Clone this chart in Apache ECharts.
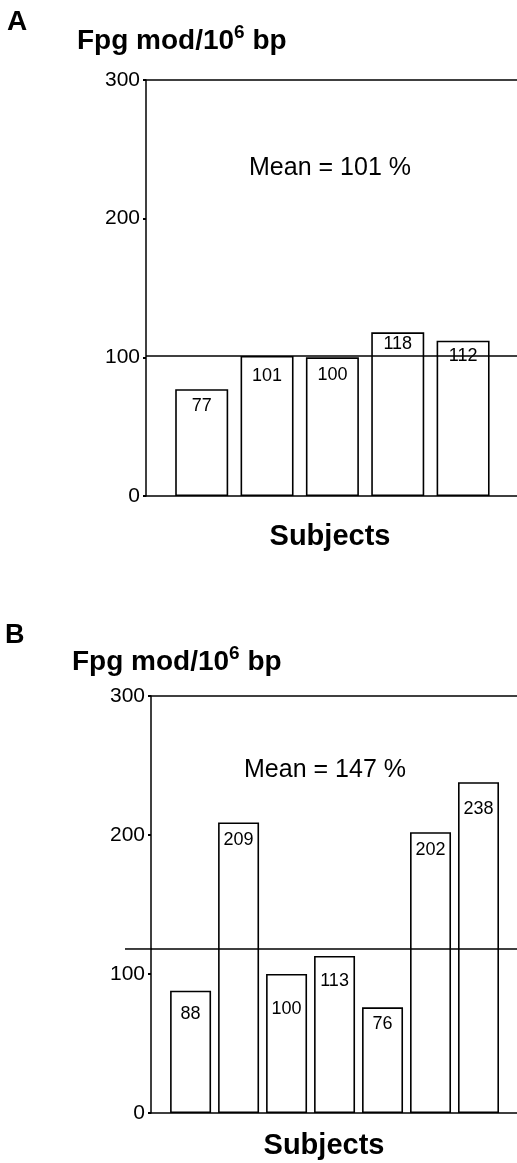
<!DOCTYPE html>
<html>
<head>
<meta charset="utf-8">
<script src="https://cdn.jsdelivr.net/npm/echarts@6/dist/echarts.min.js"></script>
<style>
html,body{margin:0;padding:0;background:#fff;}
#c{width:517px;height:1163px;}
</style>
</head>
<body>
<div id="c"></div>
<script>
// ---- data ----
const subjectsA = ['S1','S2','S3','S4','S5'];
const valuesA = [77, 101, 100, 118, 112];
const subjectsB = ['S1','S2','S3','S4','S5','S6','S7'];
const valuesB = [88, 209, 100, 113, 76, 202, 238];
const yTicks = [0, 100, 200, 300];
const meanA = 101;          // printed mean, panel A (%)
const meanB = 147;          // printed mean, panel B (%)
const meanLineA = 101;      // level of the horizontal reference line, A
const meanLineB = 118;      // level of the horizontal reference line, B (as drawn)
const panelLetters = ['A', 'B'];
const yTitle = 'Fpg mod/10';
const xTitle = 'Subjects';

// ---- style / layout (not data) ----
const FONT = '"Liberation Sans", Arial, Helvetica, sans-serif';
const labelDropA = [18, 21, 19, 13, 16];
const labelDropB = [24, 19, 36, 26, 18, 19, 28];

const gA = {left: 146, right: -2, top: 80, height: 416, step: 65.7, firstCenter: 202, barW: 53, lineLeftPx: 0};
const gB = {left: 151, right: -2, top: 696, height: 417, step: 48.25, firstCenter: 190.8, barW: 41, lineLeftPx: 26};
function xRange(g) {
  const width = 517 - g.left - g.right;
  const min = 1 - (g.firstCenter - g.left) / g.step;
  return {min: min, max: min + width / g.step};
}
const rA = xRange(gA), rB = xRange(gB);

function yAxisCfg(idx) {
  return {
    type: 'value', gridIndex: idx, min: yTicks[0], max: yTicks[yTicks.length - 1],
    interval: yTicks[1] - yTicks[0],
    axisLine: {show: true, onZero: false, lineStyle: {color: '#000', width: 1.5}},
    axisTick: {show: true, length: 3, lineStyle: {color: '#000', width: 2}},
    axisLabel: {color: '#000', fontSize: 21, fontFamily: FONT, margin: 6},
    splitLine: {show: false}
  };
}
function xAxisCfg(idx, r) {
  return {
    type: 'value', gridIndex: idx, min: r.min, max: r.max,
    axisLine: {show: true, onZero: false, lineStyle: {color: '#000', width: 1.5}},
    axisTick: {show: false}, axisLabel: {show: false}, splitLine: {show: false}
  };
}
function barSeries(idx, cats, vals, drops, g, r) {
  return {
    type: 'bar', xAxisIndex: idx, yAxisIndex: idx, clip: false,
    barWidth: g.barW,
    data: vals.map((v, i) => ({
      name: cats[i], value: [i + 1, v],
      label: {distance: drops[i] - 10}
    })),
    itemStyle: {color: '#fff', borderColor: '#000', borderWidth: 1.6},
    label: {
      show: true, position: 'insideTop', color: '#000', fontSize: 18, fontFamily: FONT,
      formatter: p => p.value[1]
    },
    z: 2,
    markLine: {
      silent: true, symbol: 'none', animation: false,
      lineStyle: {color: '#000', width: 1.5, type: 'solid'},
      label: {show: false},
      data: [
        [{coord: [r.min, yTicks[yTicks.length - 1]]}, {coord: [r.max, yTicks[yTicks.length - 1]]}]
      ]
    }
  };
}
function meanLineSeries(idx, level, r) {
  return {
    type: 'line', xAxisIndex: idx, yAxisIndex: idx, clip: false, silent: true,
    symbol: 'none', z: 5,
    lineStyle: {color: '#000', width: 1.5},
    data: [[r.min, level], [r.max, level]]
  };
}

function titleText(id, x, y) {
  return {
    type: 'text', id: id, x: x, y: y, z: 10,
    style: {
      text: '{m|' + yTitle + '}{s|6}{m| bp}',
      align: 'left', verticalAlign: 'top', fill: '#000',
      rich: {
        m: {fontFamily: FONT, fontWeight: 'bold', fontSize: 28, lineHeight: 32, verticalAlign: 'bottom', fill: '#000'},
        s: {fontFamily: FONT, fontWeight: 'bold', fontSize: 19, lineHeight: 32, verticalAlign: 'top', fill: '#000'}
      }
    }
  };
}
function plainText(id, txt, x, y, size, bold, align) {
  return {
    type: 'text', id: id, x: x, y: y, z: 10,
    style: {
      text: txt, fill: '#000', align: align || 'center', verticalAlign: 'bottom',
      font: (bold ? 'bold ' : '') + size + 'px ' + FONT
    }
  };
}

const chart = echarts.init(document.getElementById('c'), null, {renderer: 'canvas'});
chart.setOption({
  animation: false,
  backgroundColor: '#fff',
  grid: [
    {left: gA.left, right: gA.right, top: gA.top, height: gA.height, containLabel: false},
    {left: gB.left, right: gB.right, top: gB.top, height: gB.height, containLabel: false}
  ],
  xAxis: [xAxisCfg(0, rA), xAxisCfg(1, rB)],
  yAxis: [yAxisCfg(0), yAxisCfg(1)],
  series: [
    barSeries(0, subjectsA, valuesA, labelDropA, gA, rA),
    barSeries(1, subjectsB, valuesB, labelDropB, gB, rB),
    meanLineSeries(0, meanLineA, rA),
    meanLineSeries(1, meanLineB, rB)
  ]
});

// left extension of panel B's reference line, beyond the y axis (position from the library's scale)
const pB = chart.convertToPixel({xAxisIndex: 1, yAxisIndex: 1}, [rB.min, meanLineB]);
chart.setOption({
  graphic: [
    plainText('letA', panelLetters[0], 7, 36, 28, true, 'left'),
    plainText('letB', panelLetters[1], 5, 649, 27, true, 'left'),
    titleText('titA', 77, 23),
    titleText('titB', 72, 644),
    plainText('meanA', 'Mean = ' + meanA + ' %', 330, 181, 25, false),
    plainText('meanB', 'Mean = ' + meanB + ' %', 325, 783, 25, false),
    plainText('subA', xTitle, 330, 551, 29, true),
    plainText('subB', xTitle, 324, 1160, 29, true),
    {
      type: 'line', id: 'stubB', z: 10, silent: true,
      shape: {x1: pB[0] - gB.lineLeftPx, y1: pB[1], x2: pB[0] + 1, y2: pB[1]},
      style: {stroke: '#000', lineWidth: 1.5}
    }
  ]
});
</script>
</body>
</html>
